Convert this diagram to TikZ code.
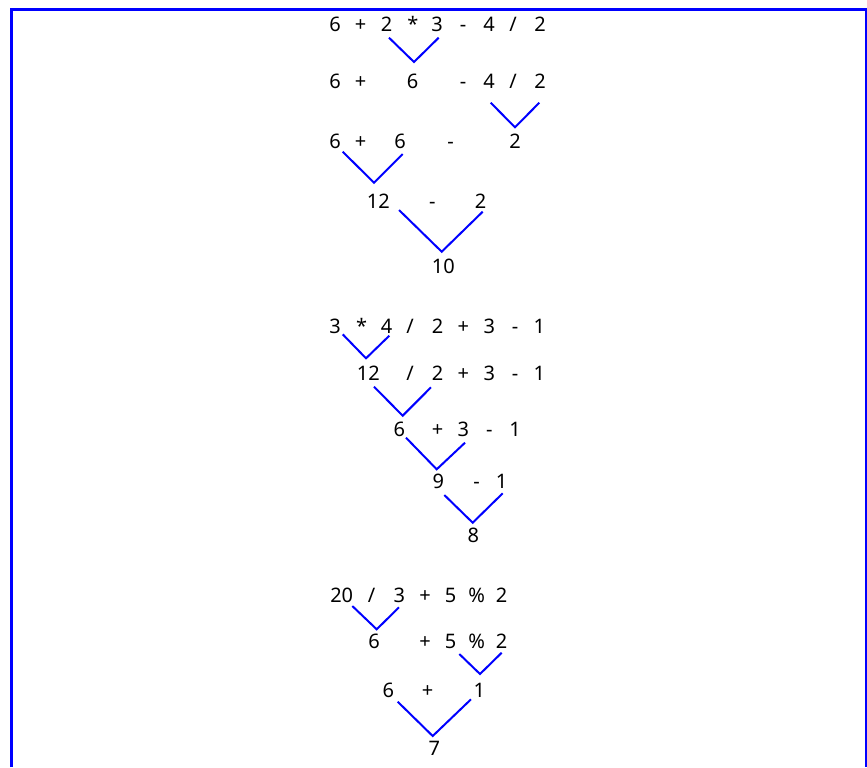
\documentclass[tikz,border=0pt]{standalone}
\usepackage{fontspec}
\setmainfont{Noto Sans}
\usepackage{tikz}

\begin{document}
\begin{tikzpicture}[x=0.5pt, y=-0.5pt,
  tok/.style={font=\fontsize{10}{12}\selectfont, inner sep=0pt, anchor=base},
  vee/.style={blue, line width=1pt},
  frame/.style={blue, line width=1.5pt}]
\useasboundingbox (0,0) rectangle (867,767);
\draw[frame] (11.5,767) -- (11.5,9) -- (866,9) -- (866,767);
% 6 + 2 * 3 - 4 / 2
\foreach \t/\x [count=\i] in {6/335, +/360.7, 2/386.7, */413, 3/437, -/463, 4/489, \slash/513, 2/540}
  \node[tok] (a1\i) at (\x,31.7) {\t};
\foreach \t/\x [count=\i] in {6/335, +/360.7, 6/412.7, -/463, 4/489, \slash/513, 2/540}
  \node[tok] (a2\i) at (\x,88.7) {\t};
\foreach \t/\x [count=\i] in {6/335, +/360.7, 6/400, -/450.7, 2/515}
  \node[tok] (a3\i) at (\x,148.7) {\t};
\foreach \t/\x [count=\i] in {12/378.3, -/432.3, 2/480.7}
  \node[tok] (a4\i) at (\x,208.2) {\t};
\node[tok] (a51) at (443.3,273.2) {10};
% 3 * 4 / 2 + 3 - 1
\foreach \t/\x [count=\i] in {3/335, */361.7, 4/386.7, \slash/410, 2/437.7, +/463.3, 3/489.3, -/515, 1/539.3}
  \node[tok] (b1\i) at (\x,333.2) {\t};
\foreach \t/\x [count=\i] in {12/368.3, \slash/410, 2/437.7, +/463.3, 3/489.3, -/515, 1/539.3}
  \node[tok] (b2\i) at (\x,380.5) {\t};
\foreach \t/\x [count=\i] in {6/399.3, +/437.7, 3/463.3, -/489.3, 1/515}
  \node[tok] (b3\i) at (\x,436.5) {\t};
\foreach \t/\x [count=\i] in {9/438.3, -/476.7, 1/501.7}
  \node[tok] (b4\i) at (\x,488.9) {\t};
\node[tok] (b51) at (473.3,542.2) {8};
% 20 / 3 + 5 % 2
\foreach \t/\x [count=\i] in {20/341.7, \slash/371.7, 3/399.3, +/425, 5/450.7, \%/476.7, 2/501.7}
  \node[tok] (c1\i) at (\x,602.2) {\t};
\foreach \t/\x [count=\i] in {6/374, +/425, 5/450.7, \%/476.7, 2/501.7}
  \node[tok] (c2\i) at (\x,648.9) {\t};
\foreach \t/\x [count=\i] in {6/388.3, +/427.7, 1/479.3}
  \node[tok] (c3\i) at (\x,697.9) {\t};
\node[tok] (c41) at (434.3,755.5) {7};
% reduction marks
\foreach \ax/\ay/\bx/\by/\cx/\cy in {
    389/37.7/414/62/438.7/37.7,
    490.7/102.7/515/127.3/539.3/102.7,
    342.7/151.7/374/182.7/402.7/154,
    399/210/441.7/251.7/482.7/211.7,
    342.7/334.3/366/358.3/389.3/335.7,
    374/386.7/402.7/415.7/431/387.3,
    406/437.7/436.7/469.3/465/442.7,
    444.3/495/472.7/522.7/502.7/493.3,
    352.3/606/376.7/629.3/399/607.3,
    459.3/654/480/674/501.7/652.7,
    397.7/701.7/432.7/736/471/699.3}
  \draw[vee] (\ax,\ay) -- (\bx,\by) -- (\cx,\cy);
\end{tikzpicture}
\end{document}
